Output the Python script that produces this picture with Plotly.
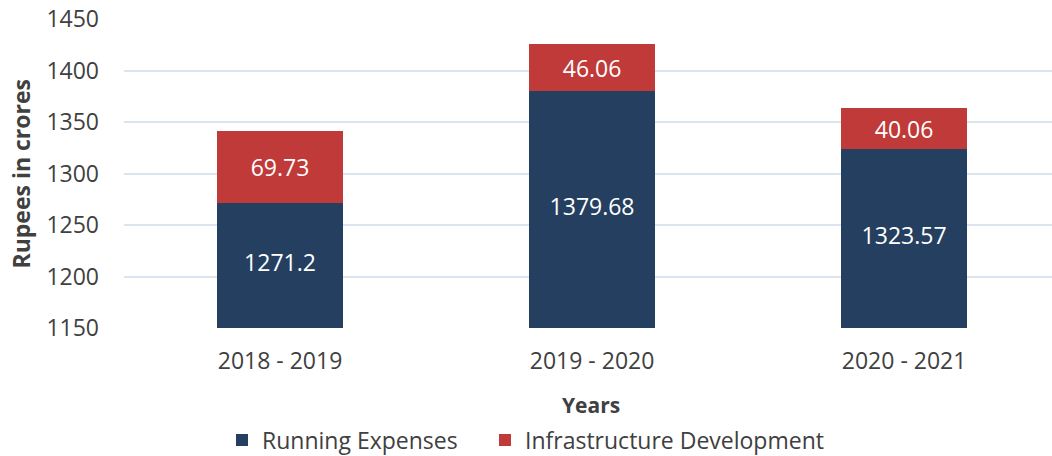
import plotly.graph_objects as go

years = ["2018 - 2019", "2019 - 2020", "2020 - 2021"]
running = [1271.2, 1379.68, 1323.57]
infra = [69.73, 46.06, 40.06]
y_ticks = [1150, 1200, 1250, 1300, 1350, 1400, 1450]
y_min, y_max = 1150, 1450

FONT = "Open Sans"
TXT = "#404040"

fig = go.Figure()
fig.add_trace(go.Bar(
    x=years, y=running, name="Running Expenses",
    marker=dict(color="#253f60", line=dict(width=0)),
    legend="legend",
))
fig.add_trace(go.Bar(
    x=years, y=infra, name="Infrastructure Development",
    marker=dict(color="#c03a39", line=dict(width=0)),
    text=[f"{v:.2f}" for v in infra], textposition="inside",
    insidetextanchor="middle", textangle=0, constraintext="none",
    textfont=dict(family=FONT, size=23, color="white"),
    legend="legend2",
))
# labels for the running-expense segments, centred in the visible part of each bar
fig.add_trace(go.Scatter(
    x=years, y=[(y_min + v) / 2 for v in running], mode="text",
    text=[str(v) for v in running], showlegend=False, hoverinfo="skip",
    textfont=dict(family=FONT, size=23, color="white"),
))

leg_common = dict(orientation="h", yref="container", y=(456 - 440) / 456, yanchor="middle",
                  xref="container", xanchor="left",
                  font=dict(family=FONT, size=23, color=TXT), itemwidth=30,
                  bgcolor="rgba(0,0,0,0)")

fig.update_layout(
    barmode="stack",
    bargap=0.596,
    width=1052, height=456,
    margin=dict(l=124, r=0, t=19, b=128, autoexpand=False),
    paper_bgcolor="white", plot_bgcolor="white",
    font=dict(family=FONT, size=23, color=TXT),
    showlegend=True,
    legend=dict(x=222 / 1052, **leg_common),
    legend2=dict(x=485 / 1052, **leg_common),
    xaxis=dict(range=[-0.5, 2.474], showgrid=False, showline=False, ticks="",
               ticklabelstandoff=17, automargin=False,
               tickfont=dict(family=FONT, size=23, color=TXT)),
    yaxis=dict(range=[y_min, y_max], tickvals=y_ticks, showgrid=True, gridcolor="#dae5f1",
               gridwidth=1.5, zeroline=False, showline=False, ticks="",
               ticklabelstandoff=24, automargin=False,
               tickfont=dict(family=FONT, size=23, color=TXT)),
    annotations=[
        dict(text="<b>Rupees in crores</b>", textangle=-90, xref="paper", yref="paper",
             x=(20 - 124) / 928, y=0.5, xanchor="center", yanchor="middle", showarrow=False,
             font=dict(family=FONT, size=23, color=TXT)),
        dict(text="<b>Years</b>", xref="paper", yref="paper",
             x=(591 - 124) / 928, y=(328 - 405) / 309, xanchor="center", yanchor="middle",
             showarrow=False, font=dict(family=FONT, size=21, color=TXT)),
    ],
)

fig.write_html("out.html", config={"displayModeBar": False},
               post_script="document.body.style.margin='0px';")
